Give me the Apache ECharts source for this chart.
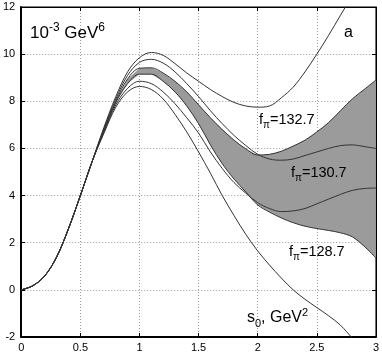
<!DOCTYPE html>
<html>
<head>
<meta charset="utf-8">
<script src="https://cdn.jsdelivr.net/npm/echarts@6/dist/echarts.min.js"></script>
<style>
  html, body { margin: 0; padding: 0; background: #fff; }
  #chart { width: 382px; height: 354px; }
</style>
</head>
<body>
<div id="chart"></div>
<script>
// s0 grid (GeV^2)
const s0 = [0, 0.1, 0.2, 0.3, 0.4, 0.5, 0.6, 0.7, 0.8, 0.9, 1.0, 1.1, 1.2, 1.3, 1.4, 1.5,
  1.6, 1.7, 1.8, 1.9, 2.0, 2.1, 2.2, 2.3, 2.4, 2.5, 2.6, 2.7, 2.8, 2.9, 3.0]

// curves (10^-3 GeV^6)
const curveA = [0, 0.18, 0.6, 1.4, 2.6, 4.0, 5.45, 6.9, 8.2, 9.25, 9.85, 10.07, 9.95, 9.6, 9.2, 8.85,
  8.5, 8.2, 7.95, 7.8, 7.75, 7.8, 8.15, 8.6, 9.25, 10.0, 10.8, 11.65, 12.5, 13.4, 14.3]
const curveB = [0, 0.18, 0.6, 1.4, 2.6, 4.0, 5.45, 6.85, 8.1, 9.1, 9.65, 9.78, 9.62, 9.25, 8.75, 8.2,
  7.6, 7.05, 6.55, 6.12, 5.75, 5.55, 5.5, 5.55, 5.7, 5.85, 6.0, 6.12, 6.15, 6.08, 6.0]
const bandTop = [0, 0.18, 0.6, 1.4, 2.6, 4.0, 5.45, 6.8, 8.0, 8.95, 9.4, 9.42, 9.2, 8.85, 8.4, 7.85,
  7.3, 6.8, 6.35, 5.98, 5.72, 5.75, 5.88, 6.1, 6.35, 6.7, 7.1, 7.6, 8.1, 8.5, 8.9]
const bandBot = [0, 0.18, 0.6, 1.4, 2.6, 4.0, 5.45, 6.75, 7.95, 8.75, 9.15, 9.15, 8.85, 8.4, 7.8, 7.05,
  6.15, 5.35, 4.7, 4.15, 3.6, 3.3, 3.05, 2.85, 2.7, 2.6, 2.52, 2.42, 2.25, 1.85, 1.35]
const curveC = [0, 0.18, 0.6, 1.4, 2.6, 4.0, 5.45, 6.7, 7.85, 8.55, 8.85, 8.75, 8.4, 7.9, 7.3, 6.65,
  5.85, 5.15, 4.55, 4.1, 3.7, 3.45, 3.32, 3.35, 3.45, 3.65, 3.85, 4.05, 4.22, 4.3, 4.32]
const curveD = [0, 0.18, 0.6, 1.4, 2.6, 4.0, 5.45, 6.65, 7.75, 8.4, 8.63, 8.5, 8.1, 7.45, 6.7, 5.85,
  4.95, 4.0, 3.15, 2.35, 1.65, 1.05, 0.5, 0.0, -0.4, -0.75, -1.1, -1.5, -2.05, -2.6, -3.2]

const xTicks = [0, 0.5, 1, 1.5, 2, 2.5, 3]
const yTicks = [-2, 0, 2, 4, 6, 8, 10, 12]

const font = 'Liberation Sans, Arial, Helvetica, sans-serif'
const lineColor = '#333'

function pairs(ys) {
  return s0.map((x, i) => [x, ys[i]])
}

function curve(name, ys) {
  return {
    name: name,
    type: 'line',
    data: pairs(ys),
    smooth: 0.35,
    symbol: 'none',
    lineStyle: { color: lineColor, width: 1 },
    z: 5
  }
}

// grey band between bandBot and bandTop
function renderBand(params, api) {
  let pts = []
  for (let i = 0; i < s0.length; i++) pts.push(api.coord([s0[i], bandTop[i]]))
  for (let i = s0.length - 1; i >= 0; i--) pts.push(api.coord([s0[i], bandBot[i]]))
  return {
    type: 'polygon',
    shape: { points: pts },
    style: { fill: '#9b9b9b', stroke: null }
  }
}

function richLabel(size, subSize) {
  return {
    b: { fontFamily: font, fontSize: size, lineHeight: 18, verticalAlign: 'top', fill: '#000' },
    s: { fontFamily: font, fontSize: subSize, lineHeight: 18, verticalAlign: 'bottom', fill: '#000' }
  }
}

let chart = echarts.init(document.getElementById('chart'))

const tickLabel = { fontFamily: font, fontSize: 11, color: '#000' }

chart.setOption({
  animation: false,
  backgroundColor: '#fff',
  grid: { show: true, left: 20, right: 5, top: 7, bottom: 17, borderColor: '#000', borderWidth: 1 },
  xAxis: [
    {
      type: 'value', min: 0, max: 3, interval: 0.5,
      axisLine: { onZero: false, lineStyle: { color: '#000', width: 2 } },
      axisTick: { inside: true, length: 4, lineStyle: { color: '#000' } },
      axisLabel: Object.assign({ margin: 5, formatter: v => String(v) }, tickLabel),
      splitLine: { show: true, lineStyle: { color: '#999', type: [1, 2], width: 1 } }
    },
    {
      type: 'value', min: 0, max: 3, interval: 0.5, position: 'top',
      axisLine: { onZero: false, lineStyle: { color: '#000', width: 1 } },
      axisTick: { inside: true, length: 4, lineStyle: { color: '#000' } },
      axisLabel: { show: false },
      splitLine: { show: false }
    }
  ],
  yAxis: [
    {
      type: 'value', min: -2, max: 12, interval: 2,
      axisLine: { show: true, onZero: false, lineStyle: { color: '#000', width: 2 } },
      axisTick: { show: true, inside: true, length: 4, lineStyle: { color: '#000' } },
      axisLabel: Object.assign({ margin: 6 }, tickLabel),
      splitLine: { show: true, lineStyle: { color: '#999', type: [1, 2], width: 1 } }
    },
    {
      type: 'value', min: -2, max: 12, interval: 2, position: 'right',
      axisLine: { show: true, onZero: false, lineStyle: { color: '#000', width: 1 } },
      axisTick: { show: true, inside: true, length: 4, lineStyle: { color: '#000' } },
      axisLabel: { show: false },
      splitLine: { show: false }
    }
  ],
  series: [
    {
      name: 'band', type: 'custom', renderItem: renderBand,
      data: [[0, 0]], clip: true, z: 2, silent: true
    },
    curve('A', curveA),
    curve('B', curveB),
    curve('bandTop', bandTop),
    curve('bandBot', bandBot),
    curve('C', curveC),
    curve('D', curveD)
  ],
  graphic: [
    {
      type: 'text', left: 30, top: 22, z: 10,
      style: {
        text: '{b|10}{s|-3}{b| GeV}{s|6}',
        rich: {
          b: { fontFamily: font, fontSize: 17, lineHeight: 20, verticalAlign: 'bottom', fill: '#000' },
          s: { fontFamily: font, fontSize: 12, lineHeight: 20, verticalAlign: 'top', fill: '#000' }
        }
      }
    },
    {
      type: 'text', left: 344, top: 25, z: 10,
      style: { text: 'a', fontFamily: font, fontSize: 16, fill: '#000' }
    },
    {
      type: 'text', left: 259, top: 112, z: 10,
      style: { text: '{b|f}{s|π}{b|=132.7}', rich: richLabel(14.5, 10) }
    },
    {
      type: 'text', left: 291, top: 165, z: 10,
      style: { text: '{b|f}{s|π}{b|=130.7}', rich: richLabel(14.5, 10) }
    },
    {
      type: 'text', left: 289, top: 244, z: 10,
      style: { text: '{b|f}{s|π}{b|=128.7}', rich: richLabel(14.5, 10) }
    },
    {
      type: 'text', left: 247, top: 307, z: 10,
      style: {
        text: '{b|s}{s|0}{b|, GeV}{p|2}',
        rich: {
          b: { fontFamily: font, fontSize: 16, lineHeight: 22, verticalAlign: 'middle', fill: '#000' },
          s: { fontFamily: font, fontSize: 11, lineHeight: 22, verticalAlign: 'bottom', fill: '#000' },
          p: { fontFamily: font, fontSize: 11, lineHeight: 22, verticalAlign: 'top', fill: '#000' }
        }
      }
    }
  ]
})
</script>
</body>
</html>
